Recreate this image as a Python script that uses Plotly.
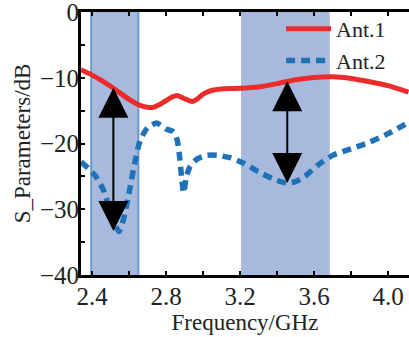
import plotly.graph_objects as go

freq1 = [2.34, 2.40, 2.45, 2.50, 2.55, 2.60, 2.65, 2.70, 2.73, 2.77, 2.82, 2.86, 2.90, 2.94,
         2.97, 3.00, 3.05, 3.10, 3.20, 3.30, 3.40, 3.50, 3.60, 3.70, 3.80, 3.90, 4.00, 4.11]
ant1 = [-8.8, -9.6, -10.4, -11.3, -12.3, -13.3, -14.1, -14.5, -14.5, -14.0, -13.1, -12.7, -13.2, -13.6,
        -13.2, -12.5, -11.9, -11.7, -11.6, -11.4, -10.9, -10.3, -9.95, -9.85, -10.1, -10.6, -11.2, -12.2]

freq2 = [2.34, 2.38, 2.42, 2.46, 2.49, 2.52, 2.545, 2.57, 2.60, 2.63, 2.66, 2.70, 2.75, 2.80, 2.84,
         2.86, 2.875, 2.885, 2.895, 2.91, 2.93, 2.97, 3.02, 3.08, 3.15, 3.22, 3.30, 3.38, 3.45, 3.50,
         3.55, 3.62, 3.70, 3.80, 3.90, 4.00, 4.11]
ant2 = [-22.8, -23.8, -25.0, -27.0, -29.5, -32.0, -33.4, -31.5, -27.5, -23.0, -19.5, -17.6, -16.9, -17.8, -18.2,
        -19.5, -22.5, -25.5, -27.5, -25.0, -23.5, -22.3, -21.8, -21.8, -22.2, -23.0, -24.3, -25.4, -26.0, -25.8,
        -25.0, -23.3, -21.8, -20.8, -19.8, -18.5, -16.8]

bands = [(2.395, 2.65), (3.205, 3.685)]
arrows = [(2.515, -11.3, -33.3), (3.455, -10.3, -26.0)]

x_ticks = [2.4, 2.8, 3.2, 3.6, 4.0]
x_tick_text = ["2.4", "2.8", "3.2", "3.6", "4.0"]
y_ticks = [0, -10, -20, -30, -40]

FONT = "Liberation Serif"
fig = go.Figure()

fig.add_trace(go.Scatter(x=freq1, y=ant1, mode="lines", name="Ant.1",
                         line=dict(color="#ee2b2b", width=5, shape="spline", smoothing=0.6)))
fig.add_trace(go.Scatter(x=freq2, y=ant2, mode="lines", name="Ant.2",
                         line=dict(color="#1f72b8", width=5.5, dash="9px,6px", shape="spline", smoothing=0.6)))

for i, (a, b) in enumerate(bands):
    fig.add_shape(type="rect", xref="x", yref="y", x0=a, x1=b, y0=-40, y1=0,
                  fillcolor="#a7badd", line=dict(width=0), layer="below")
    if i == 0:
        for xv in (a, b):
            fig.add_shape(type="line", xref="x", yref="y", x0=xv, x1=xv, y0=-40, y1=0,
                          line=dict(color="#6b9ac8", width=2), layer="below")

for (xa, y0, y1) in arrows:
    fig.add_annotation(x=xa, y=y1, ax=xa, ay=y0, xref="x", yref="y", axref="x", ayref="y",
                       showarrow=True, arrowhead=2, arrowside="end+start", arrowsize=3,
                       arrowwidth=2, arrowcolor="black", standoff=0, startstandoff=0, text="")

fig.update_layout(
    width=409, height=337,
    margin=dict(l=81, r=0, t=12, b=62),
    plot_bgcolor="white", paper_bgcolor="white",
    font=dict(family=FONT, size=22, color="#222222"),
    showlegend=True,
    legend=dict(x=0.61, y=1.015, xanchor="left", yanchor="top", bgcolor="rgba(0,0,0,0)",
                itemwidth=45,
                font=dict(family=FONT, size=22, color="#222222"), tracegroupgap=0),
    xaxis=dict(range=[2.34, 4.113], tickvals=x_ticks, ticktext=x_tick_text,
               ticks="inside", ticklen=4, tickwidth=2, tickcolor="black",
               showline=True, linewidth=3, linecolor="black", mirror="ticks",
               showgrid=False, zeroline=False, ticklabelstandoff=-3, ticklabeloverflow="allow",
               minor=dict(dtick=0.2, tick0=2.4, ticks="inside", ticklen=4, tickwidth=2, tickcolor="black"),
               title=dict(text="Frequency/GHz", font=dict(family=FONT, size=23), standoff=1),
               tickfont=dict(family=FONT, size=25)),
    yaxis=dict(range=[-40, 0], tickvals=y_ticks,
               ticks="inside", ticklen=4, tickwidth=2, tickcolor="black",
               showline=True, linewidth=3, linecolor="black", mirror=False,
               showgrid=False, zeroline=False, ticklabelstandoff=-6, ticklabeloverflow="allow",
               minor=dict(dtick=5, ticks="inside", ticklen=4, tickwidth=2, tickcolor="black"),
               title=dict(text="S_Parameters/dB", font=dict(family=FONT, size=23), standoff=3),
               tickfont=dict(family=FONT, size=25)),
)

fig.write_html("out.html", config={"displayModeBar": False},
               post_script="document.body.style.margin='0';")
